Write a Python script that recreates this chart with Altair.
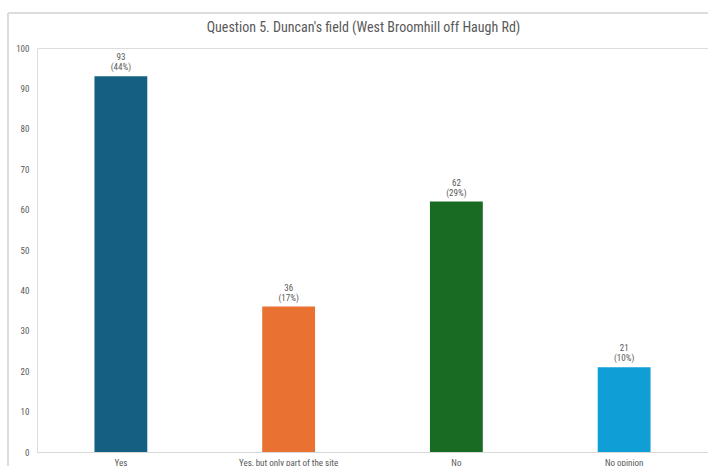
import altair as alt
import pandas as pd

# Survey answers for question 5
answers = ["Yes", "Yes, but only part of the site", "No", "No opinion"]
counts = [93, 36, 62, 21]
percents = [44, 17, 29, 10]
colors = ["#156082", "#E97132", "#196B24", "#0F9ED5"]

df = pd.DataFrame({
    "answer": answers,
    "count": counts,
    "label": [f"{c}\n({p}%)" for c, p in zip(counts, percents)],
})

W, H = 671, 404
FONT = "Liberation Sans Narrow, Roboto Condensed, Arial Narrow, Liberation Sans, sans-serif"
GREY = "#595959"

x_enc = alt.X(
    "answer:N",
    sort=answers,
    title=None,
    scale=alt.Scale(paddingInner=0.685, paddingOuter=0.3425),
    axis=alt.Axis(labelAngle=0, labelFontSize=9, labelColor=GREY, labelFont=FONT,
                  domainColor="#d9d9d9", ticks=False, labelPadding=6),
)
y_enc = alt.Y(
    "count:Q",
    title=None,
    scale=alt.Scale(domain=[0, 100], nice=False),
    axis=alt.Axis(values=list(range(0, 101, 10)), grid=False, domain=False, ticks=False,
                  labelFontSize=9, labelColor=GREY, labelFont=FONT, labelPadding=8),
)

bars = alt.Chart(df).mark_bar().encode(
    x=x_enc,
    y=y_enc,
    color=alt.Color("answer:N", sort=answers,
                    scale=alt.Scale(domain=answers, range=colors), legend=None),
)

labels = alt.Chart(df).mark_text(
    baseline="top", dy=-23, fontSize=9, color=GREY, font=FONT, lineBreak="\n",
    lineHeight=10,
).encode(x=x_enc, y=y_enc, text="label:N")

# light outer frame of the chart area
frame_v = alt.Chart(df).mark_rule(color="#d9d9d9", strokeWidth=1).encode(
    x=alt.value(-29), y=alt.value(-35), y2=alt.value(H + 30))
frame_h = alt.Chart(df).mark_rule(color="#d9d9d9", strokeWidth=1).encode(
    x=alt.value(-29), x2=alt.value(W + 10), y=alt.value(-35))

chart = alt.layer(frame_v, frame_h, bars, labels).properties(
    width=W,
    height=H,
    title=alt.TitleParams(
        "Question 5. Duncan's field (West Broomhill off Haugh Rd)",
        fontSize=14, font=FONT, fontWeight="normal", color=GREY,
        anchor="middle", frame="group", offset=-22, dx=-9,
    ),
    autosize=alt.AutoSizeParams(type="none"),
    padding={"left": 37, "top": 48, "right": 0, "bottom": 14},
).configure_view(stroke=None).configure(background="white")

chart.save("out.html", embed_options={"renderer": "svg", "actions": False})
